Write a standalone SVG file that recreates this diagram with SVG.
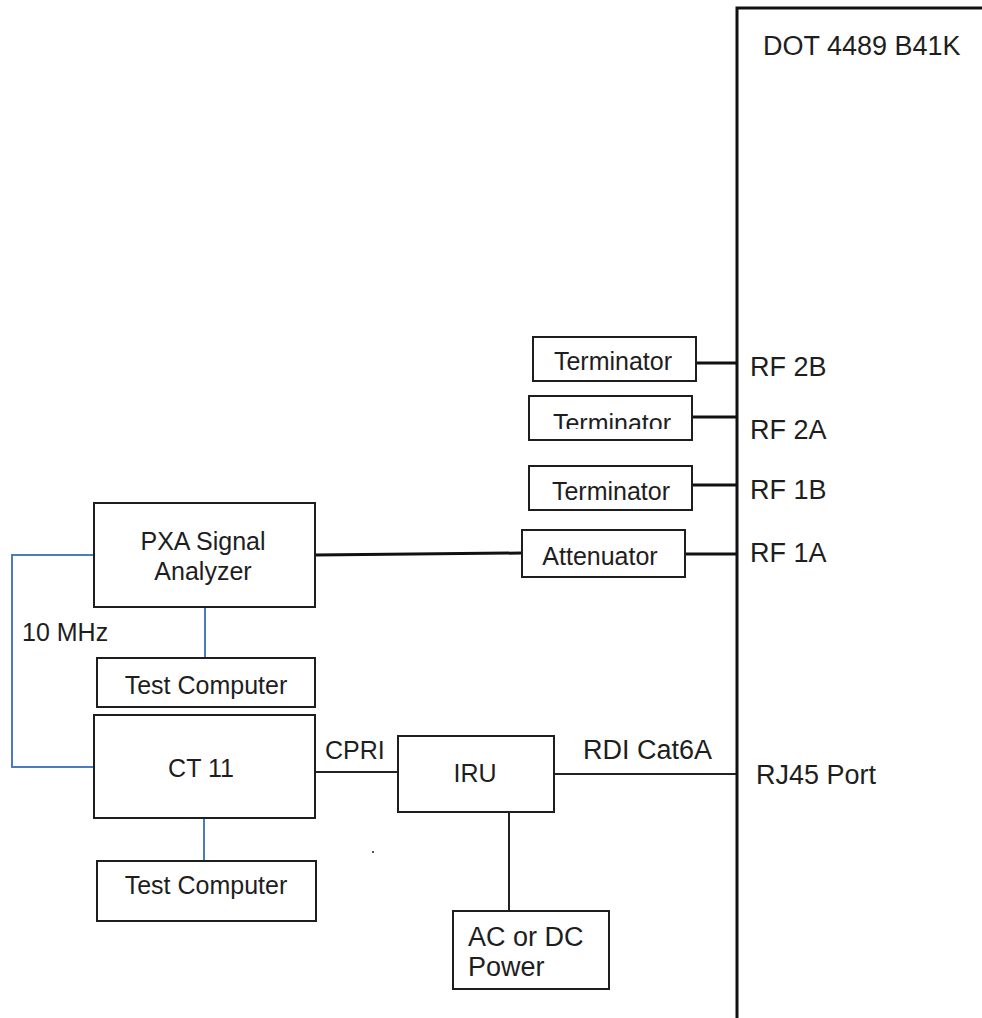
<svg xmlns="http://www.w3.org/2000/svg" width="982" height="1018" viewBox="0 0 982 1018">
<style>
.box{fill:#fff;stroke:#1e1e1e;stroke-width:2}
.t{font-family:"Liberation Sans",Arial,sans-serif;font-size:25px;fill:#1e1e1e}
.tl{font-family:"Liberation Sans",Arial,sans-serif;font-size:27px;fill:#1e1e1e}
.c{text-anchor:middle}
.blk{stroke:#111;stroke-width:3;fill:none}
.thin{stroke:#222;stroke-width:2;fill:none}
.blue{stroke:#4a7cc0;stroke-width:2;fill:none}
</style>
<defs>
<clipPath id="clipT2"><rect x="529" y="396" width="163" height="33"/></clipPath>
</defs>
<rect width="982" height="1018" fill="#fff"/>
<g id="connectors">
<line class="blk" x1="696" y1="363" x2="736" y2="363"/>
<line class="blk" x1="692" y1="417" x2="736" y2="417"/>
<line class="blk" x1="692" y1="485" x2="736" y2="485"/>
<line class="blk" x1="685" y1="554" x2="736" y2="554"/>
<line class="blk" x1="315" y1="555" x2="522" y2="553"/>
<polyline class="blue" points="94,555 12,555 12,767 94,767"/>
<line class="blue" x1="205" y1="607" x2="205" y2="658"/>
<line class="blue" x1="204" y1="819" x2="204" y2="861"/>
<line class="thin" x1="315" y1="772" x2="398" y2="772"/>
<line class="thin" x1="554" y1="774" x2="736" y2="774"/>
<line class="thin" x1="509" y1="812" x2="509" y2="911"/>
</g>
<g id="dot4489">
<polyline points="737,1020 737,8 984,8" fill="none" stroke="#111" stroke-width="3"/>
<text class="tl" x="763" y="55">DOT 4489 B41K</text>
<text class="tl" x="750" y="376">RF 2B</text>
<text class="tl" x="750" y="439">RF 2A</text>
<text class="tl" x="750" y="499">RF 1B</text>
<text class="tl" x="750" y="562">RF 1A</text>
<text class="tl" x="756" y="784">RJ45 Port</text>
</g>
<g id="term1">
<rect class="box" x="533" y="337" width="163" height="44"/>
<text class="t c" x="613" y="370">Terminator</text>
</g>
<g id="term2">
<rect class="box" x="529" y="396" width="163" height="44"/>
<text class="t c" x="612" y="432" clip-path="url(#clipT2)">Terminator</text>
</g>
<g id="term3">
<rect class="box" x="529" y="466" width="163" height="44"/>
<text class="t c" x="611" y="500">Terminator</text>
</g>
<g id="attenuator">
<rect class="box" x="522" y="530" width="163" height="47"/>
<text class="t c" x="600" y="565">Attenuator</text>
</g>
<g id="pxa">
<rect class="box" x="94" y="503" width="221" height="104"/>
<text class="t c" x="203" y="550">PXA Signal</text>
<text class="t c" x="203" y="580">Analyzer</text>
</g>
<g id="label10mhz">
<text class="t" x="22" y="641">10 MHz</text>
</g>
<g id="testcomp1">
<rect class="box" x="97" y="658" width="218" height="49"/>
<text class="t c" x="206" y="694">Test Computer</text>
</g>
<g id="ct11">
<rect class="box" x="94" y="715" width="221" height="103"/>
<text class="t c" x="201" y="777">CT 11</text>
</g>
<g id="testcomp2">
<rect class="box" x="97" y="861" width="219" height="60"/>
<text class="t c" x="206" y="894">Test Computer</text>
</g>
<g id="iru">
<rect class="box" x="398" y="736" width="156" height="76"/>
<text class="t c" x="475" y="782">IRU</text>
</g>
<g id="labels">
<text class="t" x="325" y="759">CPRI</text>
<text class="tl" x="583" y="759">RDI Cat6A</text>
</g>
<g id="power">
<rect class="box" x="453" y="911" width="156" height="78"/>
<text class="tl" x="468" y="946">AC or DC</text>
<text class="tl" x="468" y="976">Power</text>
</g>
<rect x="372" y="851" width="2" height="2" fill="#555"/>
</svg>
